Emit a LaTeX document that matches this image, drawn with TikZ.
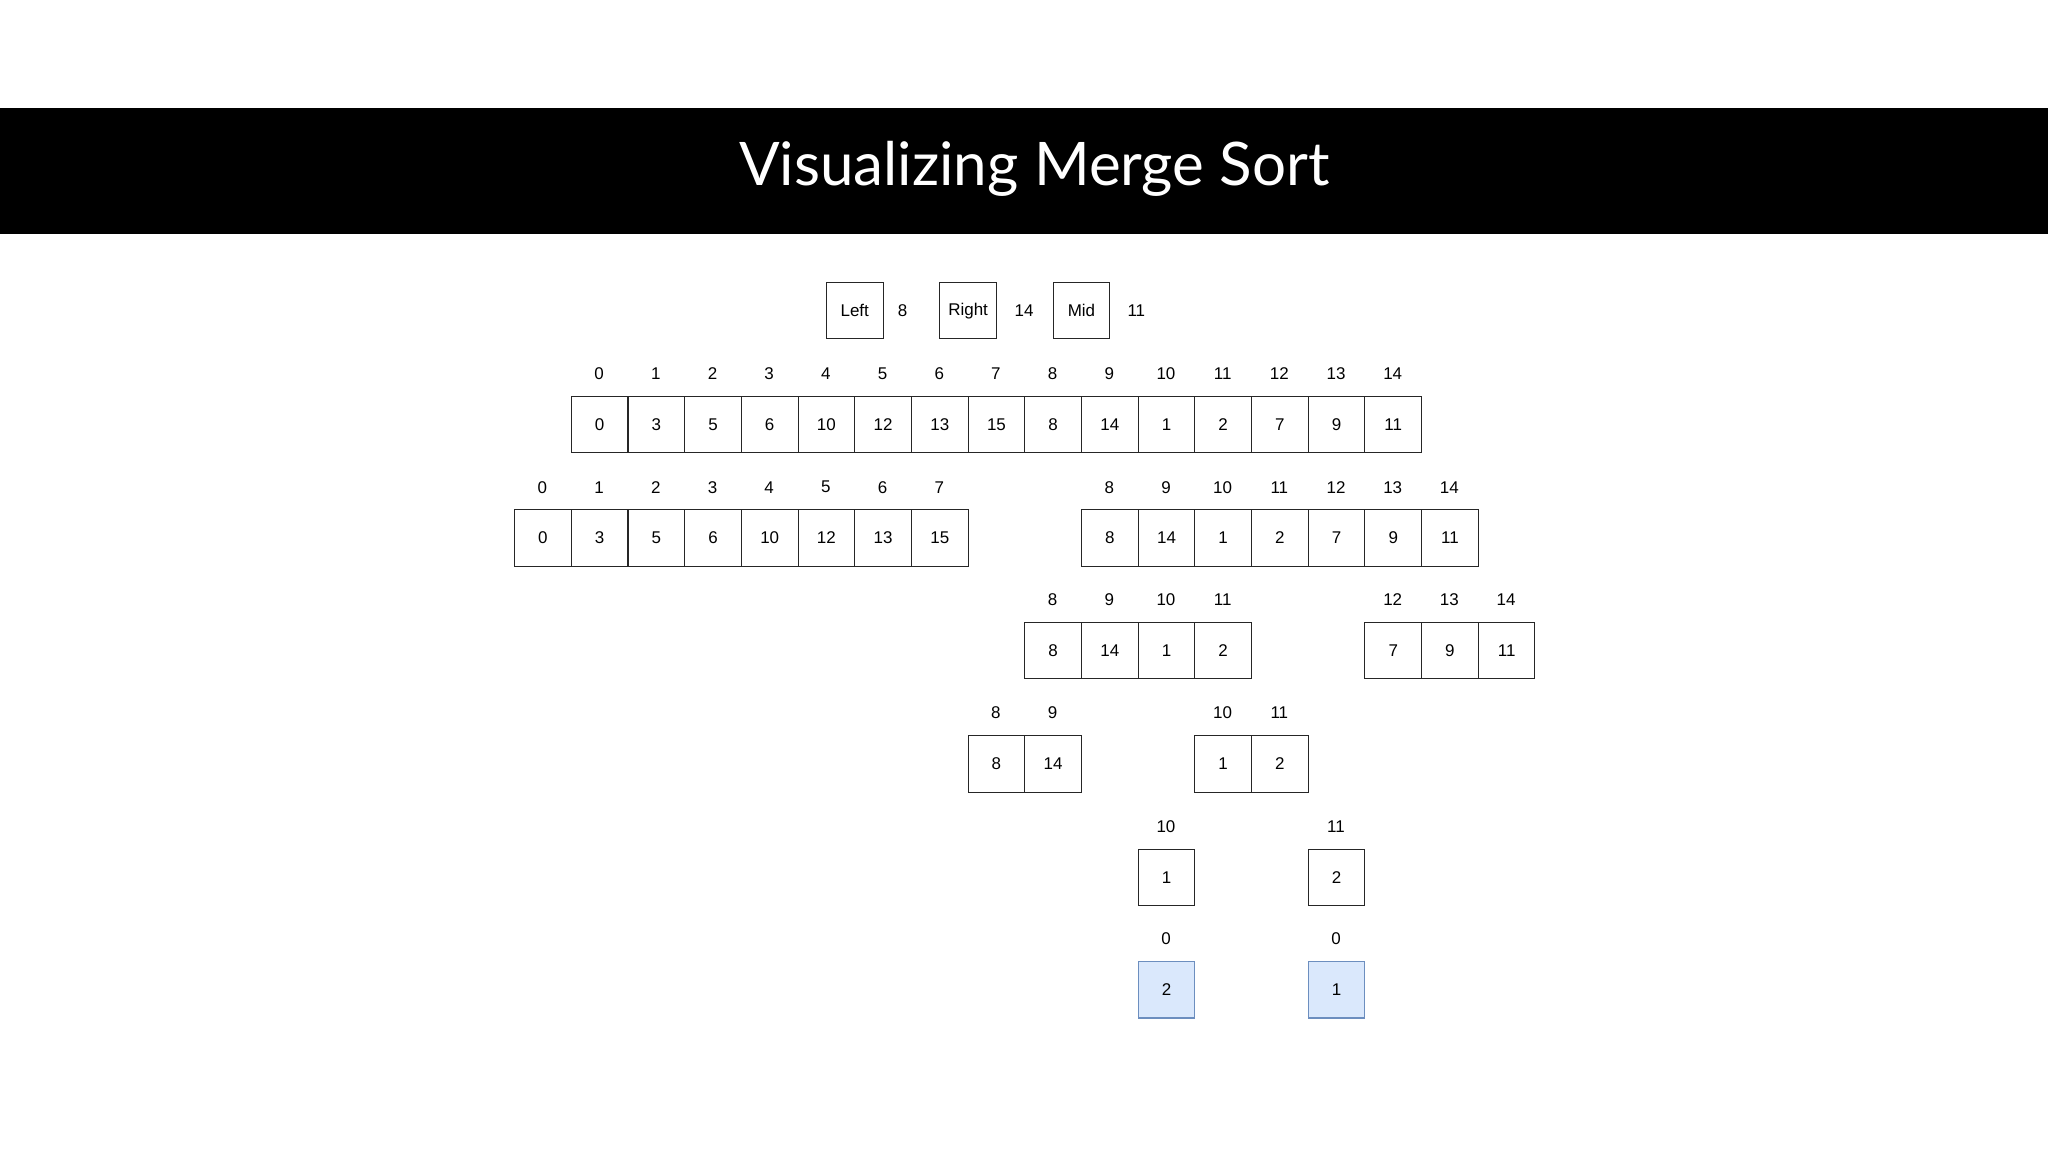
\documentclass[tikz,border=0pt]{standalone}
\usepackage{fontspec}
\setmainfont{Liberation Sans}
\newfontfamily\titlefont{Lato}
\definecolor{bluefill}{HTML}{DAE8FC}
\definecolor{blueline}{HTML}{6C8EBF}
\begin{document}
\begin{tikzpicture}[x=0.5pt,y=-0.5pt,
  cell/.style={draw=black!85,line width=0.4pt,minimum width=21.7pt,minimum height=21.5pt,inner sep=0pt,font=\fontsize{6.5}{7}\selectfont,anchor=north west},
  bcell/.style={cell,fill=bluefill,draw=blueline},
  idx/.style={font=\fontsize{6.5}{7}\selectfont,inner sep=0pt},
  val/.style={font=\fontsize{6.5}{7}\selectfont,inner sep=0pt}]
\useasboundingbox (0,0) rectangle (1568,882);
\fill[black] (0,83) rectangle (1568,179);
\node[text=white,font=\titlefont\fontsize{23}{26}\selectfont] (title) at (792,129) {Visualizing Merge Sort};
% header
\node[cell] (lb) at (393.6+5.5*43.4,216) {Left};
\node[val] (lv) at (691,238) {8};
\node[cell] (rb) at (393.6+7.5*43.4,216) {Right};
\node[val] (rv) at (784,238) {14};
\node[cell] (mb) at (393.6+9.5*43.4,216) {Mid};
\node[val] (mv) at (870,238) {11};
% row macro via foreach: g start, y top, list index/value
\newcommand{\myrow}[4]{%
  \foreach \ix/\v [count=\k from 0] in {#4} {
    \node[#3] (r#2c\ix) at ({393.6+(#1+\k)*43.4},#2) {\v};
    \node[idx] (i#2c\ix) at ({393.6+(#1+\k)*43.4+21.7},#2-17) {\ix};
  }}
\myrow{1}{303}{cell}{0/0,1/3,2/5,3/6,4/10,5/12,6/13,7/15,8/8,9/14,10/1,11/2,12/7,13/9,14/11}
\myrow{0}{390}{cell}{0/0,1/3,2/5,3/6,4/10,5/12,6/13,7/15}
\myrow{10}{390}{cell}{8/8,9/14,10/1,11/2,12/7,13/9,14/11}
\myrow{9}{476}{cell}{8/8,9/14,10/1,11/2}
\myrow{15}{476}{cell}{12/7,13/9,14/11}
\myrow{8}{563}{cell}{8/8,9/14}
\myrow{12}{563}{cell}{10/1,11/2}
\myrow{11}{650}{cell}{10/1}
\myrow{14}{650}{cell}{11/2}
\node[bcell] (ba) at ({393.6+11*43.4},736) {2};
\node[idx] (bai) at ({393.6+11*43.4+21.7},719) {0};
\node[bcell] (bb) at ({393.6+14*43.4},736) {1};
\node[idx] (bbi) at ({393.6+14*43.4+21.7},719) {0};
\end{tikzpicture}
\end{document}
